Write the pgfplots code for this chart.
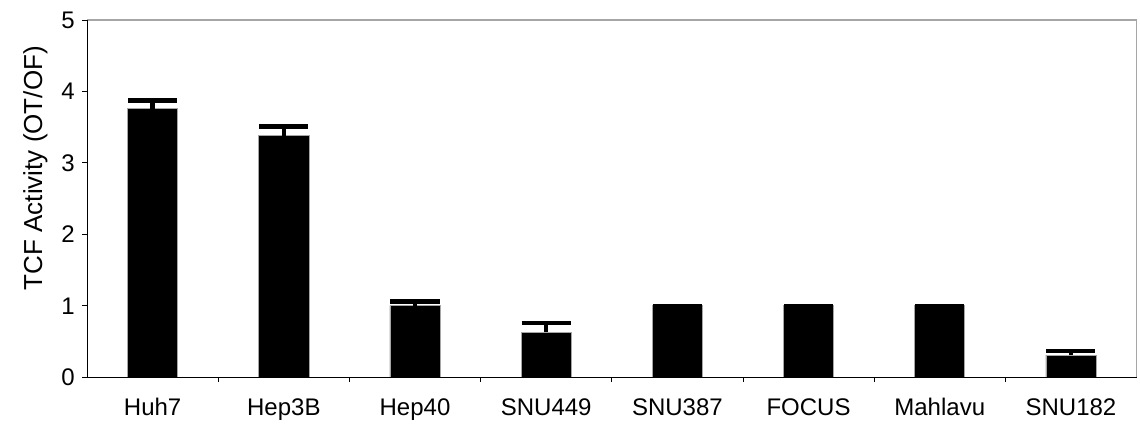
\documentclass[border=0pt]{standalone}
\usepackage{fontspec}
\setmainfont{Liberation Sans}
\usepackage{pgfplots}
\pgfplotsset{compat=1.18}
\begin{document}
\begin{tikzpicture}
\begin{axis}[
  name=ax,
  scale only axis,
  width=786.75pt, height=267.75pt,
  xmin=-0.5, xmax=7.5,
  ymin=0, ymax=5,
  ytick={0,1,2,3,4,5},
  xtick={0,1,2,3,4,5,6,7},
  xticklabels={Huh7,Hep3B,Hep40,SNU449,SNU387,FOCUS,Mahlavu,SNU182},
  minor xtick={0.5,1.5,2.5,3.5,4.5,5.5,6.5},
  major x tick style={draw=none},
  minor tick length=3.75pt,
  major tick length=3.75pt,
  tick align=outside,
  tick style={black, line width=0.6pt},
  xtick pos=bottom, ytick pos=left,
  axis line style={gray!70, line width=0.8pt},
  ticklabel style={font=\fontsize{18}{20}\selectfont},
  /pgf/number format/assume math mode=true,
  xticklabel style={anchor=base, yshift=-25pt},
  yticklabel style={xshift=-2pt},
  ylabel={TCF Activity (OT/OF)},
  ylabel style={font=\fontsize{19.5}{22}\selectfont, at={(rel axis cs:0,0.585)}, anchor=south, yshift=26pt},
  clip=false,
]
\addplot[ybar, bar width=37.5pt, fill=black, draw=gray!70, line width=0.5pt,
  error bars/.cd, y dir=plus, y explicit,
  error bar style={line width=3.4pt, black},
  error mark options={rotate=90, line width=3.2pt, mark size=18.4pt, black}]
  coordinates {
  (0,3.76) +- (0,0.115)
  (1,3.38) +- (0,0.13)
  (2,1.00) +- (0,0.06)
  (3,0.63) +- (0,0.126)
  (4,1.00) +- (0,0)
  (5,1.00) +- (0,0)
  (6,1.00) +- (0,0)
  (7,0.31) +- (0,0.055)
};
\draw[black, line width=0.8pt] (rel axis cs:0,1) -- (rel axis cs:0,0) -- (rel axis cs:1,0);
\end{axis}
\path (ax.south west) ++(-65.25pt,-36pt) coordinate (a);
\path (ax.north east) ++(2.6pt,15pt) coordinate (b);
\path (a) rectangle (b);
\end{tikzpicture}
\end{document}
